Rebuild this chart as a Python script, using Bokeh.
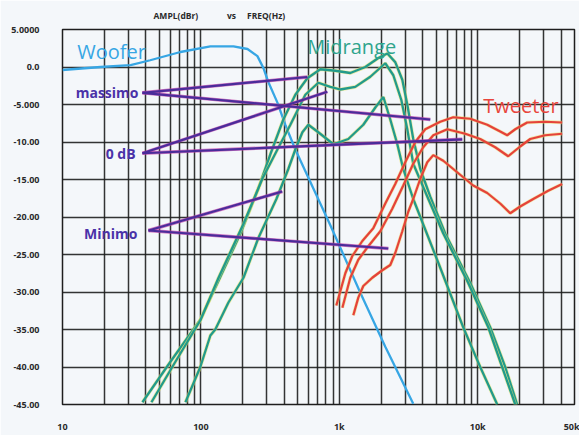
from bokeh.plotting import figure
from bokeh.models import FixedTicker, Label, Range1d
from bokeh.embed import file_html
from bokeh.resources import INLINE

# ---------------- data ----------------
woofer_f = [10, 18.8, 31, 43, 71.1, 117, 172, 217, 256, 283, 307, 357, 407, 481, 861, 1418, 2148, 3420]
woofer_db = [-0.4, 0.0, 0.25, 0.9, 2.0, 2.75, 2.75, 2.4, 1.45, -0.15, -2.0, -4.75, -7.7, -11.0, -21.1, -30.1, -37.3, -44.9]

mid_a_f = [37.8, 60.2, 99, 134, 193, 260, 318, 394, 481, 587, 729, 935, 1200, 1541, 1914, 2223, 2535, 2851,
           3097, 3420, 3845, 4539, 5821, 8831, 12300, 15790, 19280]
mid_a_db = [-44.7, -39.3, -33.7, -28.5, -22.2, -16.2, -11.6, -7.0, -3.7, -1.5, -0.3, -0.5, -0.8, 0.0, 1.2, 1.8, 0.65, -1.7,
            -5.0, -9.6, -13.6, -17.3, -22.2, -28.8, -34.7, -40.0, -45.0]

mid_b_f = [43.9, 65.4, 99, 134, 203, 278, 357, 443, 568, 705, 861, 1017, 1303, 1674, 2148, 2455, 2805, 3097,
           3420, 4395, 5636, 8531, 11910, 18660]
mid_b_db = [-44.7, -39.3, -33.8, -28.1, -20.9, -14.9, -11.0, -7.7, -3.7, -2.1, -2.65, -3.0, -2.65, -1.3, 0.5, -1.1, -4.4, -8.3,
            -12.9, -17.6, -22.2, -28.8, -34.7, -45.0]

mid_c_f = [77.3, 99, 117, 127, 158, 203, 260, 351, 428, 481, 541, 597, 705, 906, 1161, 1490, 1820, 2080, 2334,
           2624, 2897, 3420, 5188, 7852, 10420, 13830]
mid_c_db = [-44.7, -40.0, -35.8, -35.0, -31.4, -28.1, -22.8, -17.6, -13.6, -11.0, -8.7, -7.7, -8.7, -10.3, -9.6, -7.7, -5.4, -4.0, -7.0,
            -10.3, -13.6, -17.6, -26.1, -34.7, -40.0, -45.0]

tw1_f = [951, 1105, 1241, 1466, 1759, 2148, 2535, 2994, 3538, 4176, 5359, 6653, 8831, 11710, 14530, 16330, 18660, 22750, 30700, 40740]
tw1_db = [-31.8, -27.5, -25.2, -23.2, -21.5, -18.2, -15.6, -12.7, -10.0, -8.3, -7.3, -6.7, -6.9, -7.7, -8.6, -9.1, -8.3, -7.4, -7.3, -7.4]

tw2_f = [1052, 1200, 1371, 1619, 1977, 2413, 2897, 3420, 4038, 4772, 6026, 8121, 10420, 13370, 16600, 20260, 23930, 30700, 40740]
tw2_db = [-32.1, -28.1, -25.7, -23.9, -21.9, -18.9, -15.8, -12.9, -10.7, -9.1, -8.3, -8.9, -9.6, -10.7, -11.9, -10.6, -9.6, -9.1, -8.9]

tw3_f = [1262, 1371, 1490, 1730, 2044, 2334, 2535, 2851, 3148, 3420, 3845, 4317, 4772, 5636, 6653, 7852, 9272, 11710,
         14530, 17160, 20260, 25180, 32280, 40740]
tw3_db = [-33.1, -30.75, -29.2, -28.1, -27.1, -26.4, -24.8, -21.9, -19.3, -17.6, -14.9, -12.7, -11.75, -12.5, -13.6, -14.7, -15.8, -16.8,
          -18.2, -19.5, -18.6, -17.6, -16.5, -15.6]

# annotation pointer lines (massimo, 0 dB, Minimo)
ann_x0 = [37.8, 37.8, 37.8, 37.8, 41.8, 41.8]
ann_y0 = [-3.44, -3.44, -11.5, -11.5, -21.8, -21.8]
ann_x1 = [587, 4539, 819, 7727, 387, 2259]
ann_y1 = [-1.33, -7.0, -3.3, -9.64, -16.6, -24.2]

ann_labels = ["massimo", "0 dB", "Minimo"]
ann_label_f = [35.4, 33.7, 34.8]
ann_label_db = [-3.44, -11.5, -22.2]

x_tick_vals = [10, 100, 1000, 10000, 50000]
x_tick_text = ["10", "100", "1k", "10k", "50k"]
y_tick_vals = [5, 0, -5, -10, -15, -20, -25, -30, -35, -40, -45]
y_tick_text = ["5.0000", "0.0", "-5.000", "-10.00", "-15.00", "-20.00", "-25.00", "-30.00", "-35.00", "-40.00", "-45.00"]

x_grid_vals = [m * 10 ** e for e in range(1, 5) for m in range(1, 10)] + [50000]
x_grid_vals = [v for v in x_grid_vals if v <= 50000]

NB = "\u00a0"
header_text = "AMPL(dBr)" + NB * 13 + "vs" + NB * 5 + "FREQ(Hz)"

# ---------------- figure ----------------
FONT = "Open Sans"
BG = "#f4f7fa"

p = figure(width=579, height=435, x_axis_type="log",
           x_range=Range1d(10, 50000), y_range=Range1d(-45, 5),
           output_backend="svg", toolbar_location=None,
           min_border_left=62, min_border_right=5, min_border_top=29, min_border_bottom=27)

p.title.text = header_text
p.title.align = "left"
p.title.offset = 91
p.title.standoff = 14
p.title.vertical_align = "top"
p.title.text_line_height = 1.0
p.title.text_font = FONT
p.title.text_font_size = "8.5px"
p.title.text_font_style = "bold"
p.title.text_color = "#2a2a2a"

p.background_fill_color = BG
p.border_fill_color = BG
p.outline_line_color = "#1e1e1e"
p.outline_line_width = 1.5

p.xgrid.ticker = FixedTicker(ticks=x_grid_vals)
p.ygrid.ticker = FixedTicker(ticks=y_tick_vals)
for g in (p.xgrid, p.ygrid):
    g.grid_line_color = "#1e1e1e"
    g.grid_line_width = 1.5
    g.grid_line_alpha = 0.9

p.xaxis.ticker = FixedTicker(ticks=x_tick_vals)
p.xaxis.major_label_overrides = dict(zip(x_tick_vals, x_tick_text))
p.yaxis.ticker = FixedTicker(ticks=y_tick_vals)
p.yaxis.major_label_overrides = dict(zip(y_tick_vals, y_tick_text))
for ax in (p.xaxis, p.yaxis):
    ax.axis_line_color = None
    ax.major_tick_line_color = None
    ax.minor_tick_line_color = None
    ax.major_tick_out = 0
    ax.major_tick_in = 0
    ax.major_label_text_font = FONT
    ax.major_label_text_font_size = "9px"
    ax.major_label_text_font_style = "bold"
    ax.major_label_text_color = "#2a2a2a"
p.yaxis.major_label_standoff = 23
p.xaxis.major_label_standoff = 15

# curves
WOOF = "#37a6e4"
MID = "#229a8b"
TW = "#e5423a"
PUR = "#4a2c9a"

p.line(woofer_f, woofer_db, line_color=WOOF, line_width=2.3)
for fx, dy in ((mid_a_f, mid_a_db), (mid_b_f, mid_b_db), (mid_c_f, mid_c_db)):
    p.line(fx, dy, line_color="#e6e36a", line_width=3.6, line_alpha=0.6)
    p.line(fx, dy, line_color=MID, line_width=2.3)
for fx, dy in ((tw1_f, tw1_db), (tw2_f, tw2_db), (tw3_f, tw3_db)):
    p.line(fx, dy, line_color="#f2d35a", line_width=3.4, line_alpha=0.5)
    p.line(fx, dy, line_color=TW, line_width=2.2)

p.segment(ann_x0, ann_y0, ann_x1, ann_y1, line_color="#c13ea8", line_width=3.4, line_alpha=0.7)
p.segment(ann_x0, ann_y0, ann_x1, ann_y1, line_color=PUR, line_width=2.2)

for txt, fx, dy in zip(ann_labels, ann_label_f, ann_label_db):
    p.add_layout(Label(x=fx, y=dy, text=txt, text_font=FONT, text_font_size="14px",
                       text_font_style="bold", text_color="#4a32a8",
                       text_align="right", text_baseline="middle"))

p.add_layout(Label(x=12.8, y=2.1, text="Woofer", text_font=FONT, text_font_size="20px",
                   text_color=WOOF, text_align="left", text_baseline="alphabetic"))
p.add_layout(Label(x=587, y=2.76, text="Midrange", text_font=FONT, text_font_size="20px",
                   text_color="#2fa48c", text_align="left", text_baseline="alphabetic"))
p.add_layout(Label(x=10960, y=-5.16, text="Tweeter", text_font=FONT, text_font_size="20px",
                   text_color="#e8453c", text_align="left", text_baseline="alphabetic"))

open("out.html", "w").write(file_html(p, INLINE))
